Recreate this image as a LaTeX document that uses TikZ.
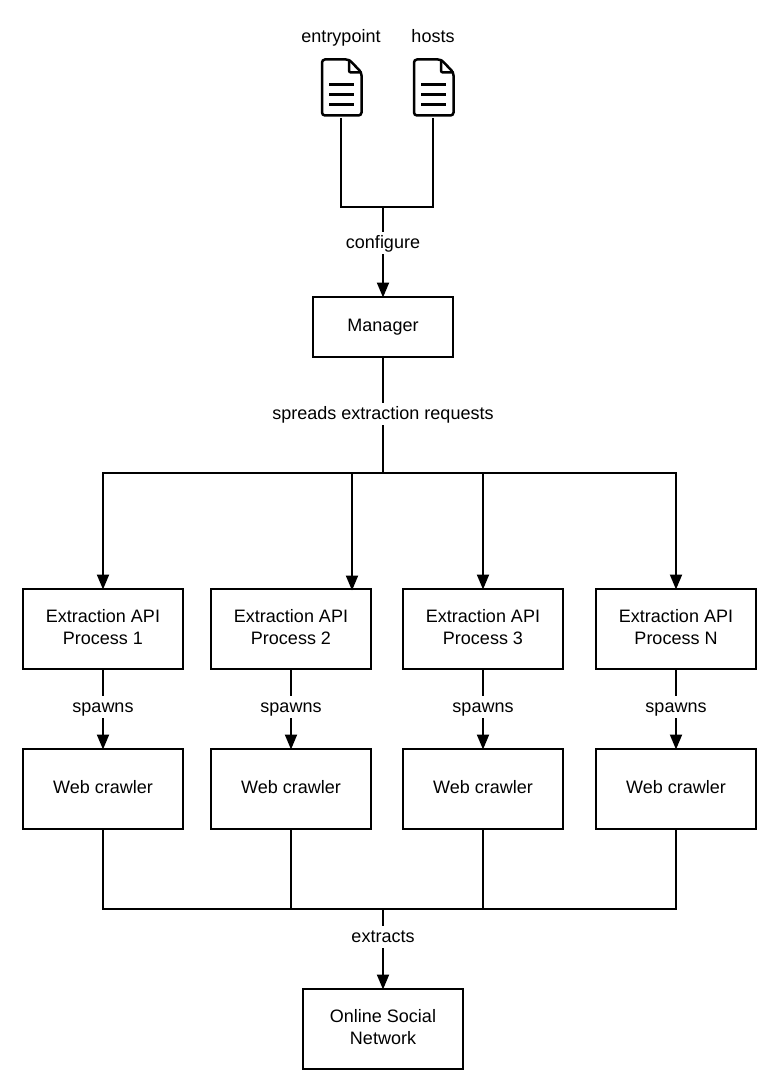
\documentclass[tikz,border=0pt]{standalone}
\usepackage{fontspec}
\setmainfont{Liberation Sans}
\usetikzlibrary{arrows.meta}
\tikzset{
	box/.style={draw,line width=2pt,minimum width=160pt,minimum height=80pt,align=center,inner sep=0pt,execute at end node={\rule[-3.5pt]{0pt}{3.5pt}}},
	lbl/.style={fill=white,inner xsep=2pt,inner ysep=0pt,text height=16pt,text depth=6pt},
	txt/.style={inner sep=0pt,text height=16pt,text depth=6pt},
	arr/.style={->,shorten >=-1.5pt},
	filenode/.style={minimum width=42pt,minimum height=58pt,inner sep=0pt},
	docicon/.pic={
		\draw[line width=2.5pt,rounded corners=3pt] (-19,-28.5) -- (8,-28.5) -- (20.5,-15.5) -- (20.5,27.5) -- (-19,27.5) -- cycle;
		\draw[line width=2.5pt,rounded corners=2pt] (8,-28.5) -- (8,-15.5) -- (20.5,-15.5);
		\foreach \ly in {-3,7,17}
			\draw[line width=3pt] (-12,\ly) -- (13,\ly);
	}
}

\begin{document}
\begin{tikzpicture}[x=1pt,y=-1pt,>={Triangle[length=15pt,width=12pt]},line width=2pt,font=\fontsize{18}{22}\selectfont]
	\useasboundingbox (0,0) rectangle (783,1083);

	\node (entrypoint) [txt] at (341,38) {entrypoint};
	\node (hosts) [txt] at (433,38) {hosts};
	\node (file1) [filenode] at (341,88) {};
	\node (file2) [filenode] at (433,88) {};
	\pic at (file1) {docicon};
	\pic at (file2) {docicon};

	\node (manager) [box,minimum width=140pt,minimum height=60pt] at (383,327) {Manager};

	\node (proc1) [box] at (103,629) {Extraction API\\Process 1};
	\node (proc2) [box] at (291,629) {Extraction API\\Process 2};
	\node (proc3) [box] at (483,629) {Extraction API\\Process 3};
	\node (procN) [box] at (676,629) {Extraction API\\Process N};

	\node (crawl1) [box] at (103,789) {Web crawler};
	\node (crawl2) [box] at (291,789) {Web crawler};
	\node (crawl3) [box] at (483,789) {Web crawler};
	\node (crawlN) [box] at (676,789) {Web crawler};

	\node (osn) [box] at (383,1029) {Online Social\\Network};

	\coordinate (confjoin) at (383,207);
	\coordinate (spread) at (383,473);
	\coordinate (extract) at (383,909);
	\coordinate (proc2in) at (352,589);

	\draw (file1.south) |- (confjoin);
	\draw (file2.south) |- (confjoin);
	\draw[arr] (confjoin) -- node[lbl,pos=.41] {configure} (manager.north);

	\draw (manager.south) -- node[lbl,pos=.49] {spreads extraction requests} (spread);
	\draw[arr] (spread) -| (proc1.north);
	\draw[arr] (spread) -| (proc2in);
	\draw[arr] (spread) -| (proc3.north);
	\draw[arr] (spread) -| (procN.north);

	\foreach \i in {1,2,3,N} {
		\draw[arr] (proc\i.south) -- node[lbl,pos=.48] {spawns} (crawl\i.north);
		\draw (crawl\i.south) |- (extract);
	}

	\draw[arr] (extract) -- node[lbl,pos=.36] {extracts} (osn.north);
\end{tikzpicture}
\end{document}
